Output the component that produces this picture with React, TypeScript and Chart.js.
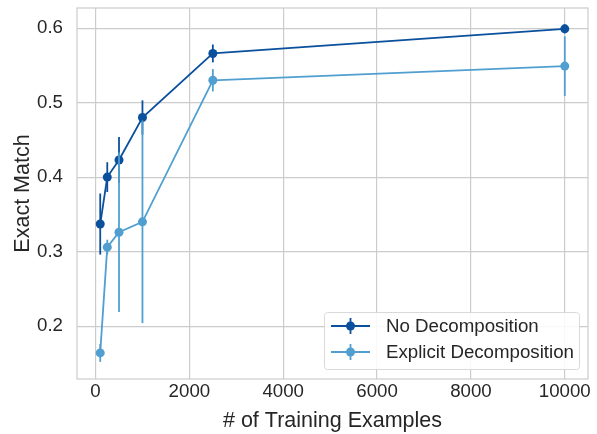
import React, { useEffect, useRef } from "react";
import { Chart, registerables } from "chart.js";

Chart.register(...registerables);

const trainingSizes = [100, 250, 500, 1000, 2500, 10000];
const noDecompMean = [0.337, 0.4, 0.423, 0.48, 0.566, 0.599];
const noDecompErr = [0.041, 0.02, 0.031, 0.023, 0.012, 0.006];
const explicitMean = [0.164, 0.306, 0.326, 0.34, 0.53, 0.549];
const explicitErr = [0.012, 0.01, 0.107, 0.136, 0.015, 0.04];
const xTicks = [0, 2000, 4000, 6000, 8000, 10000];
const yTicks = [0.2, 0.3, 0.4, 0.5, 0.6];
const seriesNames = ["No Decomposition", "Explicit Decomposition"];

const DARK = "#0a509c";
const LIGHT = "#519fd1";
const FONT = "'Liberation Sans', Arial, sans-serif";
const TICK_SIZE = 18.7;
const LABEL_SIZE = 21.5;

export default function App() {
  const ref = useRef<HTMLCanvasElement | null>(null);

  useEffect(() => {
    document.body.style.margin = "0";
    const canvas = ref.current;
    if (!canvas) return;

    const errorBars = {
      id: "errorBars",
      beforeDatasetDraw(chart: any, args: any) {
        const ds = chart.data.datasets[args.index];
        const errs: number[] = ds.errors;
        if (!errs) return;
        const ctx = chart.ctx;
        const xs = chart.scales.x;
        const ys = chart.scales.y;
        ctx.save();
        ctx.strokeStyle = ds.borderColor;
        ctx.lineWidth = 1.8;
        ds.data.forEach((p: any, i: number) => {
          const px = xs.getPixelForValue(p.x);
          ctx.beginPath();
          ctx.moveTo(px, ys.getPixelForValue(p.y - errs[i]));
          ctx.lineTo(px, ys.getPixelForValue(p.y + errs[i]));
          ctx.stroke();
        });
        ctx.restore();
      },
    };

    const frameAndLegend = {
      id: "frameAndLegend",
      afterDraw(chart: any) {
        const ctx = chart.ctx;
        const a = chart.chartArea;
        ctx.save();
        ctx.strokeStyle = "#cccccc";
        ctx.lineWidth = 1.2;
        ctx.strokeRect(a.left, a.top, a.right - a.left, a.bottom - a.top);

        // legend
        const bx = 324.5, by = 312.5, bw = 255, bh = 57;
        ctx.fillStyle = "rgba(255,255,255,0.85)";
        ctx.strokeStyle = "#d9d9d9";
        ctx.lineWidth = 1;
        ctx.beginPath();
        (ctx as any).roundRect(bx, by, bw, bh, 3);
        ctx.fill();
        ctx.stroke();
        const colors = [DARK, LIGHT];
        colors.forEach((c, i) => {
          const cy = 326 + i * 26;
          ctx.strokeStyle = c;
          ctx.lineWidth = 1.8;
          ctx.beginPath();
          ctx.moveTo(331, cy);
          ctx.lineTo(370, cy);
          ctx.moveTo(350.5, cy - 8);
          ctx.lineTo(350.5, cy + 8);
          ctx.stroke();
          ctx.fillStyle = c;
          ctx.beginPath();
          ctx.arc(350.5, cy, 4.5, 0, Math.PI * 2);
          ctx.fill();
          ctx.fillStyle = "#262626";
          ctx.font = `${TICK_SIZE}px ${FONT}`;
          ctx.textBaseline = "middle";
          ctx.textAlign = "left";
          ctx.fillText(seriesNames[i], 386, cy + 1);
        });
        ctx.restore();
      },
    };

    const mk = (ys: number[]) => trainingSizes.map((x, i) => ({ x, y: ys[i] }));

    const chart = new Chart(canvas, {
      type: "line",
      data: {
        datasets: [
          {
            label: seriesNames[0],
            data: mk(noDecompMean),
            errors: noDecompErr,
            borderColor: DARK,
            backgroundColor: DARK,
            borderWidth: 1.8,
            pointRadius: 4.5,
            pointHoverRadius: 4.5,
            pointBorderWidth: 0,
            order: 1,
          } as any,
          {
            label: seriesNames[1],
            data: mk(explicitMean),
            errors: explicitErr,
            borderColor: LIGHT,
            backgroundColor: LIGHT,
            borderWidth: 1.8,
            pointRadius: 4.5,
            pointHoverRadius: 4.5,
            pointBorderWidth: 0,
            order: 0,
          } as any,
        ],
      },
      options: {
        animation: false,
        responsive: false,
        maintainAspectRatio: false,
        layout: { padding: { top: 8, right: 9, left: 0, bottom: 0 } },
        plugins: {
          legend: { display: false },
          tooltip: { enabled: false },
        },
        scales: {
          x: {
            type: "linear",
            min: -395,
            max: 10495,
            afterBuildTicks: (s: any) => {
              s.ticks = xTicks.map((v) => ({ value: v }));
            },
            afterFit: (s: any) => {
              s.height = 55;
              s.paddingLeft = 0;
              s.paddingRight = 0;
              s.paddingTop = 0;
              s.paddingBottom = 0;
            },
            grid: { color: "#cccccc", lineWidth: 1.2, drawTicks: false },
            border: { display: false },
            ticks: {
              color: "#262626",
              font: { family: FONT, size: TICK_SIZE },
              padding: 2,
              maxRotation: 0,
              autoSkip: false,
              callback: (v: any) => String(v),
            },
            title: {
              display: true,
              text: "# of Training Examples",
              color: "#262626",
              font: { family: FONT, size: LABEL_SIZE },
              padding: { top: 0, bottom: 0 },
            },
          },
          y: {
            type: "linear",
            min: 0.129,
            max: 0.627,
            afterBuildTicks: (s: any) => {
              s.ticks = yTicks.map((v) => ({ value: v }));
            },
            afterFit: (s: any) => {
              s.width = 77;
              s.paddingLeft = 0;
              s.paddingRight = 0;
              s.paddingTop = 0;
              s.paddingBottom = 0;
            },
            grid: { color: "#cccccc", lineWidth: 1.2, drawTicks: false },
            border: { display: false },
            ticks: {
              color: "#262626",
              font: { family: FONT, size: TICK_SIZE },
              padding: 14,
              autoSkip: false,
              callback: (v: any) => Number(v).toFixed(1),
            },
            title: {
              display: true,
              text: "Exact Match",
              color: "#262626",
              font: { family: FONT, size: LABEL_SIZE },
              padding: { top: 10, bottom: 0 },
            },
          },
        },
      },
      plugins: [errorBars, frameAndLegend],
    });

    return () => chart.destroy();
  }, []);

  return (
    <div style={{ position: "absolute", left: 0, top: 0, width: 597, height: 434 }}>
      <canvas ref={ref} width={597} height={434} style={{ width: 597, height: 434 }} />
    </div>
  );
}
